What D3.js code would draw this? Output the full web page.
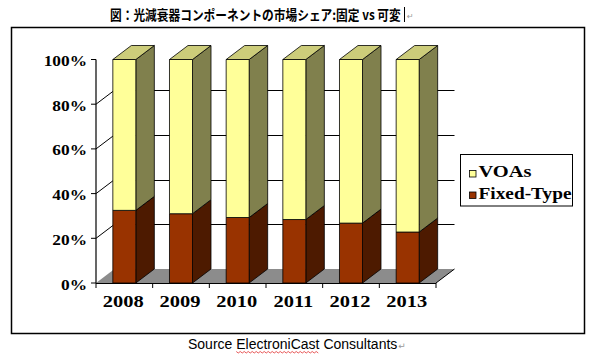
<!DOCTYPE html>
<html><head><meta charset="utf-8">
<script src="https://cdn.jsdelivr.net/npm/d3@7"></script>
<style>html,body{margin:0;padding:0;background:#fff;}svg{display:block;}</style>
</head><body>
<svg id="chart" width="594" height="357"></svg>
<script>
const years = ["2008", "2009", "2010", "2011", "2012", "2013"];
const fixedType = [32.5, 31.0, 29.3, 28.4, 26.8, 22.8];
const voas = [67.5, 69.0, 70.7, 71.6, 73.2, 77.2];
const yTicks = [0, 20, 40, 60, 80, 100];
const yTickLabels = ["0%", "20%", "40%", "60%", "80%", "100%"];
const seriesNames = ["VOAs", "Fixed-Type"];
const titleText = "図：光減衰器コンポーネントの市場シェア:固定 vs 可変";
const sourceParts = ["Source ", "ElectroniCast", " Consultants"];

const svg = d3.select("#chart");
const DX = 18.5, DY = -14;
const x = d3.scaleBand(years, [96, 436]).paddingInner(0.594).paddingOuter(0.297);
const y = d3.scaleLinear([0, 100], [283, 59.5]);
const colors = {
  "Fixed-Type": {front: "#993300", side: "#4D1A00", top: "#73260A"},
  "VOAs": {front: "#FFFF99", side: "#80804D", top: "#CCCC7A"}
};

// chart box
svg.append("rect").attr("x", 11.5).attr("y", 27.5).attr("width", 573).attr("height", 306)
  .attr("fill", "#fff").attr("stroke", "#000").attr("stroke-width", 1.5);

// title (scaled horizontally to the reference's width)
const title = svg.append("text").attr("x", 0).attr("y", 0)
  .attr("font-family", "'Noto Sans CJK JP'").attr("font-weight", 700).attr("font-size", 13.5)
  .attr("fill", "#000").text(titleText);
const tw = title.node().getComputedTextLength();
title.attr("transform", `translate(110,20) scale(${291 / tw},1)`);
svg.append("line").attr("x1", 404.5).attr("x2", 404.5).attr("y1", 7).attr("y2", 22)
  .attr("stroke", "#000").attr("stroke-width", 1);
svg.append("text").attr("x", 407).attr("y", 19).attr("font-family", "'DejaVu Sans'")
  .attr("font-size", 8).attr("fill", "#999").text("↵");

// back wall gridlines + side wall lines
const grid = yTicks.filter(v => v > 0 && v < 100);
svg.append("g").selectAll("line").data(grid).join("line")
  .attr("x1", x.range()[0] + DX).attr("x2", x.range()[1] + DX)
  .attr("y1", d => Math.round(y(d) + DY) + 0.5).attr("y2", d => Math.round(y(d) + DY) + 0.5)
  .attr("stroke", "#000").attr("stroke-width", 1);
svg.append("g").selectAll("line").data(grid).join("line")
  .attr("x1", x.range()[0]).attr("x2", x.range()[0] + DX)
  .attr("y1", d => y(d)).attr("y2", d => y(d) + DY)
  .attr("stroke", "#000").attr("stroke-width", 1);

// floor
const x0 = x.range()[0], x1 = x.range()[1], yb = y(0);
svg.append("path")
  .attr("d", `M${x0},${yb}L${x1},${yb}L${x1 + DX},${yb + DY}L${x0 + DX},${yb + DY}Z`)
  .attr("fill", "#8C8C8C");
svg.append("line").attr("x1", x1).attr("y1", yb).attr("x2", x1 + DX).attr("y2", yb + DY)
  .attr("stroke", "#000").attr("stroke-width", 1);

// axes
svg.append("line").attr("x1", x0).attr("x2", x0).attr("y1", y(100)).attr("y2", yb)
  .attr("stroke", "#000").attr("stroke-width", 1.2);
svg.append("line").attr("x1", x0).attr("x2", x1).attr("y1", yb + 0.5).attr("y2", yb + 0.5)
  .attr("stroke", "#000").attr("stroke-width", 1.2);
svg.append("g").selectAll("line").data(yTicks).join("line")
  .attr("x1", x0 - 5).attr("x2", x0).attr("y1", d => y(d)).attr("y2", d => y(d))
  .attr("stroke", "#000").attr("stroke-width", 1);
const step = x.step();
const bounds = d3.range(years.length + 1).map(i => x0 + i * step);
svg.append("g").selectAll("line").data(bounds).join("line")
  .attr("x1", d => d).attr("x2", d => d).attr("y1", yb).attr("y2", yb + 5)
  .attr("stroke", "#000").attr("stroke-width", 1);

// y labels
svg.append("g").selectAll("text").data(yTicks).join("text")
  .attr("transform", d => `translate(87,${y(d) + 6.5}) scale(1.12,1)`)
  .attr("text-anchor", "end").attr("font-family", "'Liberation Serif'")
  .attr("font-weight", 700).attr("font-size", 15.5).attr("fill", "#000")
  .text((d, i) => yTickLabels[i]);

// x labels
svg.append("g").selectAll("text").data(years).join("text")
  .attr("transform", d => `translate(${x(d) + x.bandwidth() / 2 - 1},307) scale(1.28,1)`)
  .attr("text-anchor", "middle").attr("font-family", "'Liberation Serif'")
  .attr("font-weight", 700).attr("font-size", 16).attr("fill", "#000")
  .text(d => d);

// bars
const stackData = years.map((yr, i) => ({year: yr, "Fixed-Type": fixedType[i], "VOAs": voas[i]}));
const stack = d3.stack().keys(["Fixed-Type", "VOAs"])(stackData);
const bars = svg.append("g");
years.forEach((yr, i) => {
  const bx = x(yr), bw = x.bandwidth();
  stack.forEach((layer, li) => {
    const [v0, v1] = layer[i];
    const c = colors[layer.key];
    const yt = y(v1), ybot = y(v0);
    const g = bars.append("g").attr("stroke", "#000").attr("stroke-width", 0.8).attr("stroke-linejoin", "round");
    g.append("path")
      .attr("d", `M${bx + bw},${ybot}L${bx + bw + DX},${ybot + DY}L${bx + bw + DX},${yt + DY}L${bx + bw},${yt}Z`)
      .attr("fill", c.side);
    g.append("rect").attr("x", bx).attr("y", yt).attr("width", bw).attr("height", ybot - yt)
      .attr("fill", c.front);
    if (li === stack.length - 1) {
      g.append("path")
        .attr("d", `M${bx},${yt}L${bx + DX},${yt + DY}L${bx + bw + DX},${yt + DY}L${bx + bw},${yt}Z`)
        .attr("fill", c.top);
    }
  });
});

// legend
const lg = svg.append("g");
lg.append("rect").attr("x", 460.5).attr("y", 154.5).attr("width", 112).attr("height", 51.5)
  .attr("fill", "#fff").attr("stroke", "#000").attr("stroke-width", 1);
const legendItems = [
  {name: seriesNames[0], color: colors["VOAs"].front, yb: 177, w: 53},
  {name: seriesNames[1], color: colors["Fixed-Type"].front, yb: 198.5, w: 93}
];
legendItems.forEach(it => {
  lg.append("rect").attr("x", 469.5).attr("y", it.yb - 6.5).attr("width", 6.5).attr("height", 6.5)
    .attr("fill", it.color).attr("stroke", "#000").attr("stroke-width", 0.8);
  lg.append("text").attr("x", 478.5).attr("y", it.yb)
    .attr("font-family", "'Liberation Serif'").attr("font-weight", 700).attr("font-size", 16)
    .attr("textLength", it.w).attr("lengthAdjust", "spacingAndGlyphs").attr("fill", "#000")
    .text(it.name);
});

// source
const src = svg.append("text").attr("x", 188).attr("y", 349)
  .attr("font-family", "'Liberation Sans'").attr("font-size", 14).attr("fill", "#000");
sourceParts.forEach(p => src.append("tspan").text(p));
const srcNode = src.node();
const sx0 = 188 + srcNode.getSubStringLength(0, sourceParts[0].length);
const sw = srcNode.getSubStringLength(sourceParts[0].length, sourceParts[1].length);
const totalW = srcNode.getComputedTextLength();
svg.append("text").attr("x", 188 + totalW + 1).attr("y", 349).attr("font-family", "'DejaVu Sans'")
  .attr("font-size", 9).attr("fill", "#999").text("↵");
const wave = d3.range(0, Math.floor(sw / 2) + 1).map(k => [sx0 + k * 2, 351.5 + (k % 2 ? 1.5 : 0)]);
svg.append("path").attr("d", d3.line()(wave)).attr("fill", "none").attr("stroke", "#E03030").attr("stroke-width", 0.8);
</script>
</body></html>
